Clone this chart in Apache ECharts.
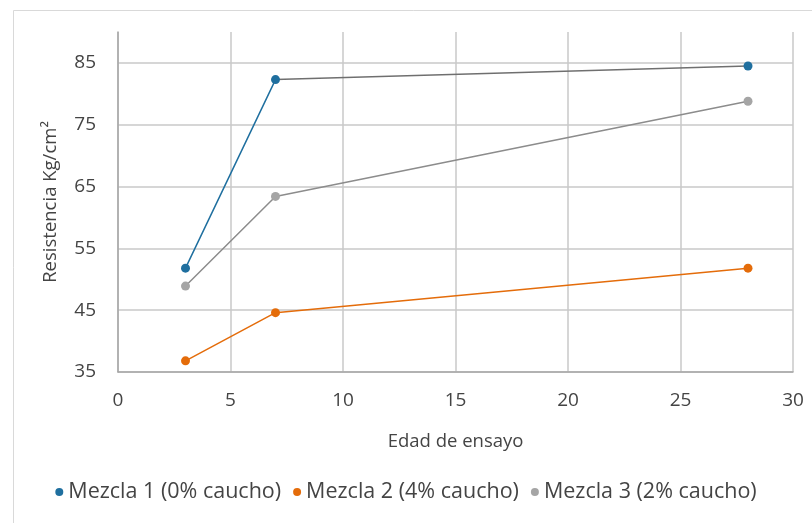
<!DOCTYPE html>
<html>
<head>
<meta charset="utf-8">
<script src="https://cdn.jsdelivr.net/npm/echarts@6/dist/echarts.min.js"></script>
<style>
  html, body { margin: 0; padding: 0; background: #fff; }
  #chart { width: 812px; height: 523px; }
</style>
</head>
<body>
<div id="chart"></div>
<script>
var ages = [3, 7, 28];
var mezcla1 = [51.8, 82.3, 84.5];
var mezcla2 = [36.8, 44.6, 51.8];
var mezcla3 = [48.9, 63.4, 78.8];
var seriesNames = ['Mezcla 1 (0% caucho)', 'Mezcla 2 (4% caucho)', 'Mezcla 3 (2% caucho)'];
var yTicks = [35, 45, 55, 65, 75, 85];

function pairs(ys) {
  return ages.map(function (a, i) { return [a, ys[i]]; });
}

var blue = '#1f6f9f';
var orange = '#e46c0a';
var gray = '#a5a5a5';

// the first series changes to a dark grey line after its 2nd point
var cut = (ages[1] - ages[0]) / (ages[2] - ages[0]);
var line1 = new echarts.graphic.LinearGradient(0, 0, 1, 0, [
  { offset: 0, color: blue },
  { offset: cut, color: blue },
  { offset: cut, color: '#6f6f6f' },
  { offset: 1, color: '#6f6f6f' }
]);

var font = '"Open Sans", sans-serif';
var txt = '#444';

function mkSeries(name, ys, color, lineColor) {
  return {
    name: name,
    type: 'line',
    data: pairs(ys),
    symbol: 'circle',
    symbolSize: 9,
    itemStyle: { color: color },
    lineStyle: { color: lineColor || color, width: 1.5 },
    emphasis: { disabled: true },
    animation: false
  };
}

var option = {
  backgroundColor: '#fff',
  graphic: [{
    type: 'rect',
    left: 11, top: 8,
    shape: { width: 830, height: 540 },
    style: { fill: 'none', stroke: '#d9d9d9', lineWidth: 1 },
    silent: true
  }],
  grid: { left: 118, right: 19, top: 32, bottom: 151 },
  legend: {
    data: seriesNames,
    left: 'center',
    top: 476,
    icon: 'circle',
    itemWidth: 8,
    itemHeight: 8,
    itemGap: 12,
    textStyle: { fontFamily: font, fontSize: 21.5, color: txt }
  },
  xAxis: {
    type: 'value',
    min: 0, max: 30, interval: 5,
    name: 'Edad de ensayo',
    nameLocation: 'middle',
    nameGap: 60,
    nameTextStyle: { fontFamily: font, fontSize: 18.5, color: txt },
    axisLine: { show: true, lineStyle: { color: '#a6a6a6', width: 1.5 } },
    axisTick: { show: false },
    splitLine: { show: true, lineStyle: { color: '#c8c8c8', width: 1.5 } },
    axisLabel: { fontFamily: font, fontSize: 19, color: txt, margin: 19 }
  },
  yAxis: {
    type: 'value',
    min: 35, max: 90,
    name: 'Resistencia Kg/cm²',
    nameLocation: 'middle',
    nameGap: 58,
    nameTextStyle: { fontFamily: font, fontSize: 18.5, color: txt },
    axisLine: { show: true, lineStyle: { color: '#a6a6a6', width: 1.5 } },
    axisTick: { show: false, customValues: yTicks },
    splitLine: { show: true, lineStyle: { color: '#c8c8c8', width: 1.5 } },
    axisLabel: { fontFamily: font, fontSize: 19, color: txt, margin: 22, customValues: yTicks }
  },
  series: [
    mkSeries(seriesNames[0], mezcla1, blue, line1),
    mkSeries(seriesNames[1], mezcla2, orange),
    mkSeries(seriesNames[2], mezcla3, gray, '#8c8c8c')
  ]
};

var myChart = echarts.init(document.getElementById('chart'));
myChart.setOption(option);
</script>
</body>
</html>
